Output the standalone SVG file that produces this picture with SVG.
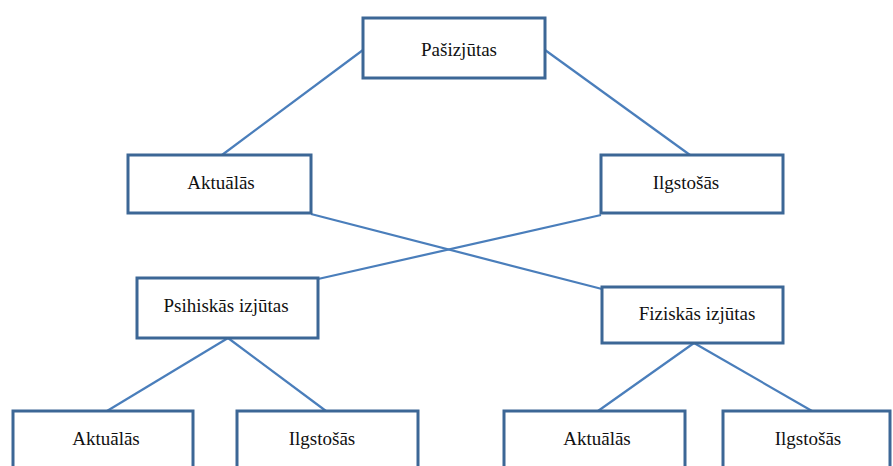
<svg xmlns="http://www.w3.org/2000/svg" width="893" height="466" viewBox="0 0 893 466">
<style>
.box{fill:#fff;stroke:#3C6796;stroke-width:3}
.lbl{font-size:19px;fill:#111;text-anchor:middle}
.conn{stroke:#4A7EBB;stroke-width:2.2;fill:none}
</style>
<rect width="893" height="466" fill="#fff"/>
<g id="connectors">
<line class="conn" x1="363" y1="50" x2="222" y2="155"/>
<line class="conn" x1="545" y1="50" x2="690" y2="155"/>
<line class="conn" x1="311" y1="214" x2="602" y2="289"/>
<line class="conn" x1="601" y1="215" x2="318" y2="279"/>
<line class="conn" x1="228" y1="338" x2="107" y2="411"/>
<line class="conn" x1="228" y1="338" x2="326" y2="411"/>
<line class="conn" x1="694" y1="343" x2="598" y2="411"/>
<line class="conn" x1="694" y1="343" x2="812" y2="411"/>
</g>
<g font-family="'Liberation Serif', 'DejaVu Serif', serif">
<g id="n-root"><rect class="box" x="363" y="18" width="182" height="60"/><text class="lbl" x="459" y="56">Pašizjūtas</text></g>
<g id="n-aktualas"><rect class="box" x="128" y="155" width="183" height="58"/><text class="lbl" x="221" y="189">Aktuālās</text></g>
<g id="n-ilgstosas"><rect class="box" x="601" y="155" width="182" height="58"/><text class="lbl" x="686" y="189">Ilgstošās</text></g>
<g id="n-psih"><rect class="box" x="137" y="278" width="181" height="60"/><text class="lbl" x="226" y="312">Psihiskās izjūtas</text></g>
<g id="n-fiz"><rect class="box" x="602" y="287" width="181" height="56"/><text class="lbl" x="697" y="320">Fiziskās izjūtas</text></g>
<g id="n-psih-akt"><rect class="box" x="13" y="411" width="180" height="70"/><text class="lbl" x="106" y="445">Aktuālās</text></g>
<g id="n-psih-ilg"><rect class="box" x="237" y="411" width="181" height="70"/><text class="lbl" x="322" y="445">Ilgstošās</text></g>
<g id="n-fiz-akt"><rect class="box" x="504" y="411" width="181" height="70"/><text class="lbl" x="597" y="445">Aktuālās</text></g>
<g id="n-fiz-ilg"><rect class="box" x="723" y="411" width="167" height="70"/><text class="lbl" x="808" y="445">Ilgstošās</text></g>
</g>
</svg>
